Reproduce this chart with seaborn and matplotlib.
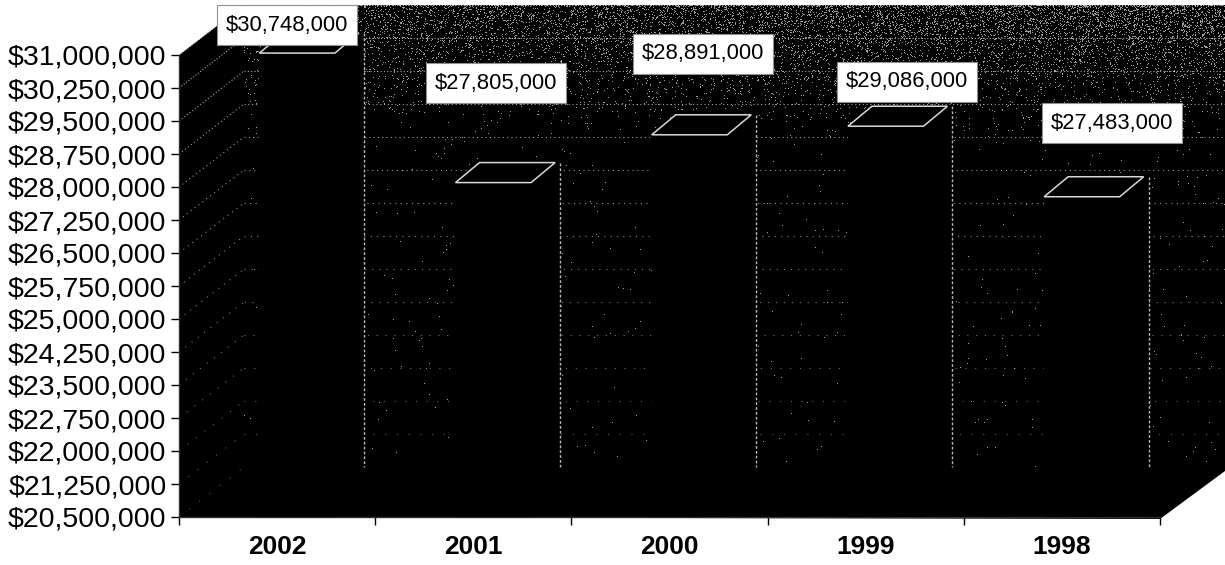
import numpy as np
import pandas as pd
import matplotlib
matplotlib.use("Agg")
import matplotlib.pyplot as plt
import seaborn as sns
from matplotlib.patches import Polygon
from matplotlib.ticker import FixedLocator, FuncFormatter
from matplotlib.transforms import Affine2D, IdentityTransform

years = ["2002", "2001", "2000", "1999", "1998"]
revenue = [30748000, 27805000, 28891000, 29086000, 27483000]
axis_ticks = [20500000 + 750000 * i for i in range(15)]
label_centers = [(287, 25), (496, 83), (703, 54), (907, 82), (1112, 123)]

W, H = 1225, 565
DEPTH = (65, 50)          # wall offset of the 3D box, in pixels
BAR_FRONT = (20, 13)      # shift of a bar's front face from the axis plane
BAR_TOP = (24, 20)        # front-to-back offset of a bar's top
EDGE = "#d8d8d8"

sns.set_theme(style="white")
plt.rcParams["font.family"] = ["Liberation Sans", "DejaVu Sans"]

fig = plt.figure(figsize=(W / 100, H / 100), dpi=100, facecolor="white")

# Pixel-space layer holding the box walls and the dithered wall gradient
bg = fig.add_axes([0, 0, 1, 1], zorder=0)
bg.set_xlim(0, W)
bg.set_ylim(H, 0)
bg.axis("off")
bg.add_patch(Polygon([(179, 55), (244, 5), (W, 6), (W, 471), (1160, 519), (179, 517)],
                     closed=True, fc="black", ec="none"))

# Gradient dither: threshold a hashed noise field against a falling brightness
xx, yy = np.meshgrid(np.arange(244, W), np.arange(5, 467))
noise = np.sin(xx * 12.9898 + yy * 78.233) * 43758.5453
noise = noise - np.floor(noise)
density = 0.2 * np.clip(1 - (yy - 5) / 140, 0, 1) ** 1.8 + 0.002
density *= 0.7 + 0.5 * (xx - 244) / (W - 244)
speck = np.where(noise < density, 0.62, 0.0)
bg.imshow(speck, cmap="gray", vmin=0, vmax=1, extent=(244, W, 467, 5),
          aspect="auto", interpolation="nearest", zorder=1)
bg.set_xlim(0, W)
bg.set_ylim(H, 0)

# Main axes: the front plane of the box
ax = fig.add_axes([179 / W, 1 - 517 / H, (1160 - 179) / W, (517 - 55) / H],
                  zorder=1, facecolor="none")
frame = pd.DataFrame({"year": years, "revenue": revenue})
sns.barplot(data=frame, x="year", y="revenue", order=years, color="black",
            width=0.385, saturation=1, ax=ax, zorder=4, edgecolor="black", linewidth=0)
ax.set_xlim(-0.5, 4.5)
ax.set_ylim(20500000, 31000000)
ax.set_xlabel("")
ax.set_ylabel("")

ax.yaxis.set_major_locator(FixedLocator(axis_ticks))
ax.yaxis.set_major_formatter(FuncFormatter(lambda v, _: f"${v:,.0f}"))
ax.tick_params(axis="y", length=6, width=1, color="black", labelsize=20.5,
               labelcolor="black", pad=3, left=True)
ax.tick_params(axis="x", which="major", length=0, labelsize=19, labelcolor="black", pad=13)
ax.set_xticks(np.arange(-0.5, 5), minor=True)
ax.tick_params(axis="x", which="minor", length=6, width=1, color="black", bottom=True)
for tick in ax.get_xticklabels():
    tick.set_fontweight("bold")
for side in ("top", "right"):
    ax.spines[side].set_visible(False)
for side in ("left", "bottom"):
    ax.spines[side].set_color("#303030")
    ax.spines[side].set_linewidth(1)

identity = IdentityTransform()
fig.canvas.draw()


def px(x, y):
    return ax.transData.transform((x, y))


# Wall gridlines thin out towards the floor
for value in axis_ticks:
    left = px(-0.5, value)
    back = left + np.array([DEPTH[0], DEPTH[1]])
    right = np.array([W, back[1]])
    fade = (value - axis_ticks[0]) / (axis_ticks[-1] - axis_ticks[0])
    gap = 1.5 + 9 * (1 - fade) ** 1.5
    alpha = 0.4 + 0.45 * fade
    style = dict(color=EDGE, lw=0.8, alpha=alpha, linestyle=(0, (1, gap)),
                 transform=identity, zorder=1, clip_on=False)
    ax.plot([left[0], back[0]], [left[1], back[1]], **style)
    if value != axis_ticks[0]:
        ax.plot([back[0], right[0]], [back[1], right[1]], **style)

# Bars: the front faces come from seaborn, the side and top faces follow their height
floor_y = px(0, axis_ticks[0])[1] + DEPTH[1]
for patch in ax.patches:
    patch.set_transform(ax.transData + Affine2D().translate(*BAR_FRONT))
    x0, y1 = patch.get_x(), patch.get_height()
    x1 = x0 + patch.get_width()
    fl = px(x0, y1) + BAR_FRONT
    fr = px(x1, y1) + BAR_FRONT
    bl = fl + BAR_TOP
    br = fr + BAR_TOP
    post_x = fr[0] + 29
    base = px(x1, axis_ticks[0]) + BAR_FRONT
    ax.add_patch(Polygon([fl, bl, br, (post_x, br[1]), (post_x, floor_y), base,
                          (fl[0], base[1])], closed=True, fc="black", ec="none",
                         transform=identity, zorder=3, clip_on=False))
    ax.add_patch(Polygon([fl, bl, br, fr], closed=True, fc="black", ec=EDGE, lw=1.1,
                         transform=identity, zorder=5, clip_on=False))
    ax.plot([post_x, post_x], [br[1], floor_y], color=EDGE, lw=1, alpha=0.85,
            linestyle=(0, (2, 1.5)), transform=identity, zorder=5, clip_on=False)

# Value labels sit on white boxes above the bars
for value, (cx, cy) in zip(revenue, label_centers):
    fig.text(cx / W, 1 - cy / H, f"${value:,.0f}", fontsize=15.8, color="black",
             ha="center", va="center", zorder=10,
             bbox=dict(boxstyle="square,pad=0.42", fc="white", ec="#909090", lw=0.8))

fig.savefig("out.png", dpi=100)
